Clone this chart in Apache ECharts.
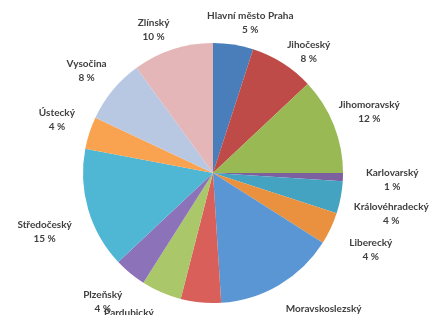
<!DOCTYPE html>
<html>
<head>
<meta charset="utf-8">
<script src="https://cdn.jsdelivr.net/npm/echarts@6/dist/echarts.min.js"></script>
<style>
  html, body { margin: 0; padding: 0; background: #fff; }
  #chart-container { width: 444px; height: 315px; }
</style>
</head>
<body>
<div id="chart-container"></div>
<script>
var dom = document.getElementById("chart-container");
var myChart = echarts.init(dom, null, { renderer: "canvas" });

// regions, clockwise from the top
const regions = [
  "Hlavní město Praha", "Jihočeský", "Jihomoravský", "Karlovarský",
  "Královéhradecký", "Liberecký", "Moravskoslezský", "Olomoucký",
  "Pardubický", "Plzeňský", "Středočeský", "Ústecký", "Vysočina", "Zlínský"
];
const shares = [5, 8, 12, 1, 4, 4, 15, 5, 5, 4, 15, 4, 8, 10];

const colors = [
  "#4a7ebb", "#be4b48", "#98b954", "#7d60a0", "#45a3c2", "#e9913f", "#5a96d4",
  "#d9605a", "#aac86a", "#8c72b8", "#4fb6d3", "#f9a24f", "#b8c8e3", "#e4b6b7"
];
// small hand tweaks so the labels sit where Excel put them
const labelNudge = [
  [8, 4], [7, 10], [-6, -4], [9, 2], [0, 12], [8, 10], [18, 9],
  [0, 0], [-17, 4], [-6, 9], [-4, 15], [-2, -5], [0, -3], [-10, 5]
];

const cx = 213, cy = 173, R = 130, gap = 14;
const total = shares.reduce((a, b) => a + b, 0);

// mid angle of each slice (radians, clockwise from 12 o'clock)
const midAngles = [];
let acc = 0;
shares.forEach(function (v) {
  midAngles.push(((acc + v / 2) / total) * Math.PI * 2);
  acc += v;
});

var option = {
  animation: false,
  series: [
    {
      type: "pie",
      center: [cx, cy],
      radius: R,
      startAngle: 90,
      avoidLabelOverlap: false,
      itemStyle: { borderWidth: 0 },
      label: {
        show: true,
        position: "outside",
        formatter: "{c|{b}}\n{c|{d} %}",
        rich: {
          c: { align: "center", color: "#3f3f3f", fontFamily: "Lato", fontWeight: "bold", fontSize: 10, lineHeight: 14 }
        }
      },
      labelLine: { show: false },
      labelLayout: function (params) {
        var i = params.dataIndex;
        var a = midAngles[i];
        var s = Math.sin(a), c = Math.cos(a);
        var w = params.labelRect.width, h = params.labelRect.height;
        return {
          x: cx + (R + gap) * s + (w / 2) * s + labelNudge[i][0],
          y: cy - (R + gap) * c - (h / 2) * c + labelNudge[i][1],
          align: "center",
          verticalAlign: "middle"
        };
      },
      emphasis: { disabled: true },
      data: regions.map(function (name, i) {
        return { name: name, value: shares[i], itemStyle: { color: colors[i] } };
      })
    }
  ]
};

myChart.setOption(option);
window.addEventListener("resize", myChart.resize);
</script>
</body>
</html>
